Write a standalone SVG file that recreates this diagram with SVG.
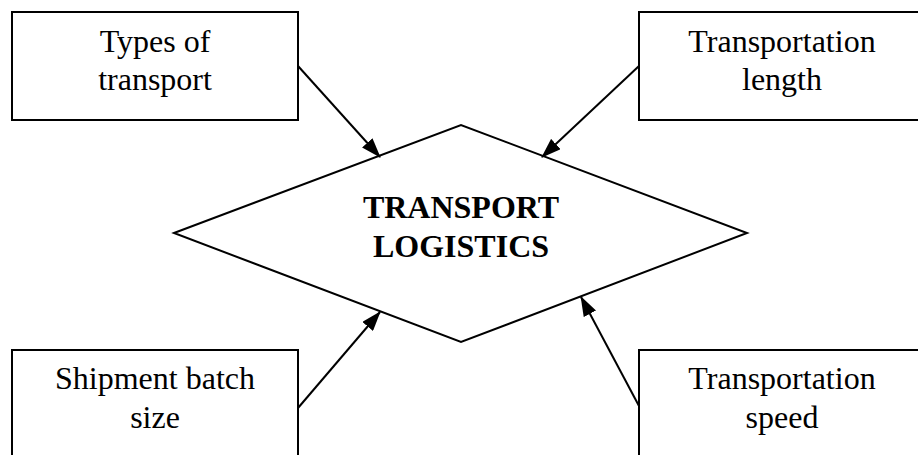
<svg xmlns="http://www.w3.org/2000/svg" width="918" height="455" viewBox="0 0 918 455">
  <style>
    .box { fill: #fff; stroke: #000; stroke-width: 2; }
    .hub { fill: #fff; stroke: #000; stroke-width: 2; }
    .lbl { font-family: "Liberation Serif", "Times New Roman", serif; font-size: 32px; fill: #000; text-anchor: middle; }
    .title { font-weight: bold; }
    .link { stroke: #000; stroke-width: 2; fill: none; marker-end: url(#head); }
  </style>
  <defs>
    <marker id="head" markerUnits="userSpaceOnUse" markerWidth="20" markerHeight="14" refX="19" refY="7" orient="auto">
      <path d="M0,0 L20,7 L0,14 Z" fill="#000"/>
    </marker>
  </defs>
  <rect width="918" height="455" fill="#fff"/>

  <g id="node-types">
    <rect class="box" x="12" y="12" width="286" height="108"/>
    <text class="lbl" x="155" y="52">Types of</text>
    <text class="lbl" x="155" y="90">transport</text>
  </g>

  <g id="node-length">
    <rect class="box" x="639" y="12" width="290" height="108"/>
    <text class="lbl" x="782" y="52">Transportation</text>
    <text class="lbl" x="782" y="90">length</text>
  </g>

  <g id="node-batch">
    <rect class="box" x="12" y="350" width="286" height="120"/>
    <text class="lbl" x="155" y="389">Shipment batch</text>
    <text class="lbl" x="155" y="428">size</text>
  </g>

  <g id="node-speed">
    <rect class="box" x="639" y="350" width="290" height="120"/>
    <text class="lbl" x="782" y="389">Transportation</text>
    <text class="lbl" x="782" y="428">speed</text>
  </g>

  <g id="node-hub">
    <polygon class="hub" points="174,233 461,125 747,233 461,342"/>
    <text class="lbl title" x="461" y="218">TRANSPORT</text>
    <text class="lbl title" x="461" y="257">LOGISTICS</text>
  </g>

  <g id="connectors">
    <line class="link" x1="298" y1="66" x2="380" y2="157"/>
    <line class="link" x1="639" y1="66" x2="542" y2="157"/>
    <line class="link" x1="298" y1="408" x2="380" y2="312"/>
    <line class="link" x1="639" y1="406" x2="581" y2="297"/>
  </g>
</svg>
